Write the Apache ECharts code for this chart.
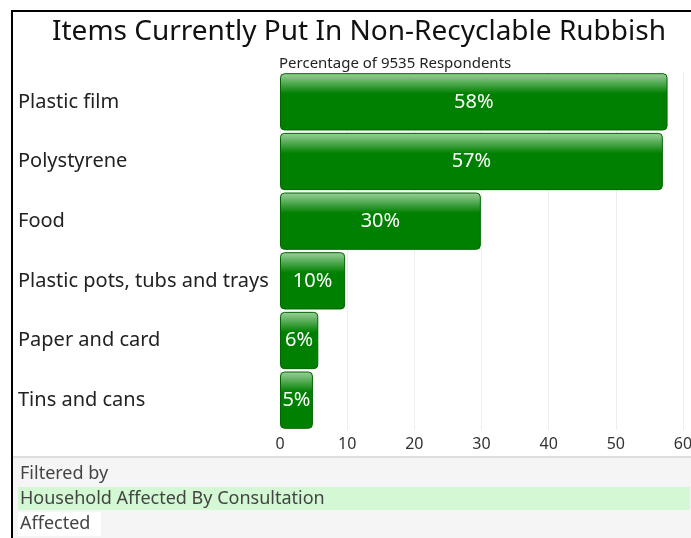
<!DOCTYPE html>
<html><head><meta charset="utf-8">
<script src="https://cdn.jsdelivr.net/npm/echarts@6/dist/echarts.min.js"></script>
<style>html,body{margin:0;padding:0;background:#fff}#c{width:691px;height:538px}</style>
</head><body><div id="c"></div>
<script>
const categories = ["Plastic film","Polystyrene","Food","Plastic pots, tubs and trays","Paper and card","Tins and cans"];
const values = [57.7, 57.0, 29.9, 9.7, 5.7, 4.9];
const xTicks = [0,10,20,30,40,50,60];
const titleText = "Items Currently Put In Non-Recyclable Rubbish";
const subtitleText = "Percentage of 9535 Respondents";
const filterLines = ["Filtered by","Household Affected By Consultation","Affected"];

const FONT = "Noto Sans";
const chart = echarts.init(document.getElementById('c'), null, {renderer:'canvas'});
chart.setOption({
  animation:false,
  backgroundColor:'#fff',
  title:[
    {text:titleText,left:47,top:13,textStyle:{fontFamily:FONT,fontSize:28,fontWeight:'normal',color:'#111'}},
    {text:subtitleText,left:274,top:51,textStyle:{fontFamily:FONT,fontSize:15,fontWeight:'normal',color:'#222'}}
  ],
  grid:{left:280,right:8,top:72,bottom:108,containLabel:false,outerBoundsMode:'none'},
  xAxis:{type:'value',min:0,max:60,interval:10,
    axisLine:{show:false},axisTick:{show:false},
    splitLine:{show:true,lineStyle:{color:'#eeeeee',width:1}},
    axisLabel:{fontFamily:FONT,fontSize:16,color:'#333',margin:6,
      formatter:v=>xTicks.includes(v)?String(v):''}},
  yAxis:{type:'category',data:categories,inverse:true,
    axisLine:{show:false},axisTick:{show:false},
    axisLabel:{fontFamily:FONT,fontSize:20,color:'#222',align:'left',margin:262}},
  series:[{type:'bar',data:values,barCategoryGap:'4%',
    itemStyle:{borderRadius:4,borderColor:'#006400',borderWidth:1,
      color:new echarts.graphic.LinearGradient(0,0,0,1,[
        {offset:0,color:'#9bd09b'},{offset:0.08,color:'#7cbf7c'},
        {offset:0.33,color:'#0c860c'},{offset:0.36,color:'#008000'},{offset:1,color:'#008000'}])},
    label:{show:true,position:'inside',color:'#fff',fontFamily:FONT,fontSize:20,
      formatter:p=>Math.round(p.value)+'%'}}],
  graphic:[
    {type:'rect',shape:{x:12,y:457,width:679,height:81},style:{fill:'#f5f5f5'},z:1},
    {type:'line',shape:{x1:12,y1:457,x2:691,y2:457},style:{stroke:'#dddddd',lineWidth:2},z:2},
    {type:'rect',shape:{x:18,y:487,width:672,height:23},style:{fill:'#d3f8d3'},z:2},
    {type:'rect',shape:{x:18,y:512,width:83,height:24},style:{fill:'#ffffff'},z:2},
    {type:'text',left:20,top:465,style:{text:filterLines[0],fontFamily:FONT,fontSize:18,fill:'#444'},z:3},
    {type:'text',left:20,top:490,style:{text:filterLines[1],fontFamily:FONT,fontSize:18,fill:'#444'},z:3},
    {type:'text',left:20,top:515,style:{text:filterLines[2],fontFamily:FONT,fontSize:18,fill:'#444'},z:3},
    {type:'line',shape:{x1:12,y1:11,x2:12,y2:538},style:{stroke:'#000',lineWidth:2},z:5},
    {type:'line',shape:{x1:11,y1:11,x2:691,y2:11},style:{stroke:'#000',lineWidth:2},z:5}
  ]
});
</script></body></html>
